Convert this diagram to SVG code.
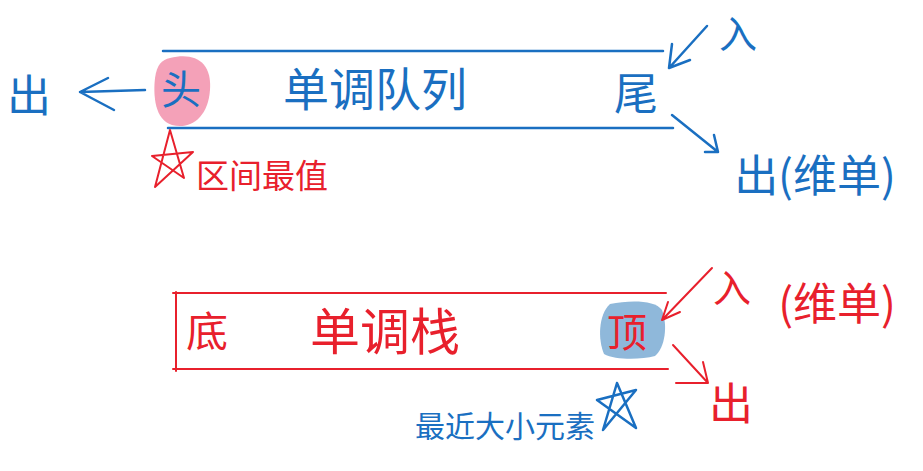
<svg xmlns="http://www.w3.org/2000/svg" width="923" height="471" viewBox="0 0 923 471">
<style>
.b{fill:#1a6fc1;font-family:"Noto Sans CJK SC","Noto Sans",sans-serif}
.r{fill:#e8202c;font-family:"Noto Sans CJK SC","Noto Sans",sans-serif}
.bl{stroke:#1a6fc1;stroke-width:2.5;fill:none;stroke-linecap:round;stroke-linejoin:round}
.rl{stroke:#e8202c;stroke-width:2;fill:none;stroke-linecap:round;stroke-linejoin:round}
</style>
<rect width="923" height="471" fill="#ffffff"/>
<g id="queue">
<line class="bl" x1="163" y1="51" x2="663" y2="51"/>
<line class="bl" x1="168" y1="128" x2="673" y2="128"/>
<path d="M170 58 C195 52 212 62 210 90 C208 118 190 130 172 125 C155 120 153 96 155 78 C157 64 162 60 170 58 Z" fill="#f4a1b8"/>
<text class="b" x="181" y="104" font-size="40" text-anchor="middle">头</text>
<text class="b" x="375" y="106" font-size="46" text-anchor="middle">单调队列</text>
<text class="b" x="636" y="110" font-size="44" text-anchor="middle">尾</text>
</g>
<g id="queue-out-left">
<text class="b" x="29" y="112" font-size="44" text-anchor="middle">出</text>
</g>
<g id="queue-star">
<path class="rl" d="M170 130 L155 187 L193 152 L152 156 L184 178 Z"/>
<text class="r" x="262" y="188" font-size="33" text-anchor="middle">区间最值</text>
</g>
<g id="queue-in">
<text class="b" x="738" y="48" font-size="38" text-anchor="middle">入</text>
</g>
<g id="queue-out-right">
<text class="b" x="815" y="192" font-size="44" text-anchor="middle">出(维单)</text>
</g>
<g id="stack">
<line class="rl" x1="173" y1="293" x2="666" y2="293"/>
<line class="rl" x1="173" y1="369" x2="668" y2="369"/>
<line class="rl" x1="176" y1="292" x2="176" y2="371"/>
<path d="M610 304 C630 300 655 300 662 310 C668 325 665 348 655 356 C640 360 615 360 604 354 C598 340 598 315 610 304 Z" fill="#8fb8da"/>
<text class="r" x="627" y="347" font-size="40" text-anchor="middle">顶</text>
<text class="r" x="207" y="347" font-size="42" text-anchor="middle">底</text>
<text class="r" x="385" y="350" font-size="50" text-anchor="middle">单调栈</text>
</g>
<g id="stack-in">
<text class="r" x="732" y="302" font-size="38" text-anchor="middle">入</text>
<text class="r" x="837" y="320" font-size="44" text-anchor="middle">(维单)</text>
</g>
<g id="stack-out">
<text class="r" x="731" y="420" font-size="44" text-anchor="middle">出</text>
</g>
<g id="stack-star">
<path class="bl" d="M617 383 L603 430 L636 390 L597 400 L636 428 Z"/>
<text class="b" x="505" y="437" font-size="30" text-anchor="middle">最近大小元素</text>
</g>
<g id="connectors">
<path class="bl" d="M145 90 L80 92 M108 78 L80 92 L114 110"/>
<path class="bl" d="M707 26 L669 68 M672 44 L669 68 L690 60"/>
<path class="bl" d="M672 115 L718 152 M705 152 L718 152 L714 135"/>
<path class="rl" d="M712 268 L662 320 M668 302 L662 320 L680 312"/>
<path class="rl" d="M673 345 L708 383 M676 383 L708 383 L703 362"/>
</g>
</svg>
